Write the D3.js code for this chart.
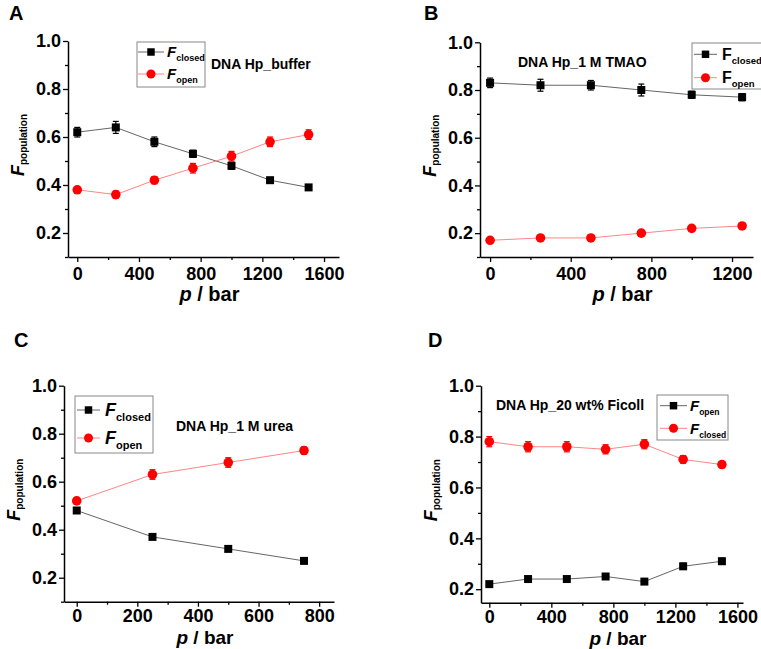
<!DOCTYPE html>
<html><head><meta charset="utf-8">
<script src="https://cdn.jsdelivr.net/npm/d3@7"></script>
<style>body{margin:0;background:#fff}svg{display:block;font-family:"Liberation Sans",Arial,sans-serif}</style>
</head><body>
<script>
// ---- data ----
const pressureA = [0, 250, 500, 750, 1000, 1250, 1500];
const closedA = [0.62, 0.64, 0.58, 0.53, 0.48, 0.42, 0.39];
const closedErrA = [0.02, 0.025, 0.02, 0.015, 0.015, 0.01, 0.01];
const openA = [0.38, 0.36, 0.42, 0.47, 0.52, 0.58, 0.61];
const openErrA = [0.01, 0.015, 0.015, 0.02, 0.02, 0.02, 0.02];

const pressureB = [0, 250, 500, 750, 1000, 1250];
const closedB = [0.83, 0.82, 0.82, 0.80, 0.78, 0.77];
const closedErrB = [0.02, 0.025, 0.02, 0.025, 0.015, 0.015];
const openB = [0.17, 0.18, 0.18, 0.20, 0.22, 0.23];
const openErrB = [0.005, 0.008, 0.005, 0.008, 0.008, 0.01];

const pressureC = [0, 250, 500, 750];
const closedC = [0.48, 0.37, 0.32, 0.27];
const closedErrC = [0.01, 0.01, 0.008, 0.008];
const openC = [0.52, 0.63, 0.68, 0.73];
const openErrC = [0.01, 0.02, 0.02, 0.015];

const pressureD = [0, 250, 500, 750, 1000, 1250, 1500];
const blackD = [0.22, 0.24, 0.24, 0.25, 0.23, 0.29, 0.31];
const blackErrD = [0.005, 0.008, 0.008, 0.01, 0.008, 0.012, 0.012];
const redD = [0.78, 0.76, 0.76, 0.75, 0.77, 0.71, 0.69];
const redErrD = [0.02, 0.02, 0.02, 0.018, 0.018, 0.015, 0.012];

const yTicksMain = [0.2, 0.4, 0.6, 0.8, 1.0];
const xTicks1600 = [0, 400, 800, 1200, 1600];
const xTicks1200 = [0, 400, 800, 1200];
const xTicks800 = [0, 200, 400, 600, 800];

const svg = d3.select("body").append("svg").attr("width", 761).attr("height", 649);

function panel(cfg) {
  const g = svg.append("g");
  const x = d3.scaleLinear().domain(cfg.xDomain).range([cfg.left, cfg.right]);
  const y = d3.scaleLinear().domain(cfg.yDomain).range([cfg.bottom, cfg.top]);

  g.append("text").attr("x", cfg.letterX).attr("y", cfg.letterY).attr("font-size", 20)
    .attr("font-weight", "bold").text(cfg.letter);

  const xMinor = cfg.xTicks.slice(0, -1).map((v, i) => (v + cfg.xTicks[i + 1]) / 2)
    .filter(v => v >= cfg.xDomain[0] && v <= cfg.xDomain[1]);
  const yMinor = [];
  for (let v = 0.1; v < 1.0; v += 0.2) if (v >= cfg.yDomain[0] - 1e-9) yMinor.push(+v.toFixed(1));

  g.append("g").attr("transform", `translate(0,${cfg.bottom})`)
    .call(d3.axisBottom(x).tickValues(cfg.xTicks).tickSize(5).tickSizeOuter(0).tickPadding(cfg.xPad).tickFormat(d3.format("d")));
  g.append("g").attr("transform", `translate(0,${cfg.bottom})`)
    .call(d3.axisBottom(x).tickValues(xMinor).tickSize(3).tickSizeOuter(0).tickFormat(""))
    .select(".domain").remove();
  g.append("g").attr("transform", `translate(${cfg.left},0)`)
    .call(d3.axisLeft(y).tickValues(yTicksMain).tickSize(5).tickSizeOuter(0).tickPadding(2).tickFormat(d3.format(".1f")));
  g.append("g").attr("transform", `translate(${cfg.left},0)`)
    .call(d3.axisLeft(y).tickValues(yMinor).tickSize(3).tickSizeOuter(0).tickFormat(""))
    .select(".domain").remove();
  g.selectAll(".domain").attr("stroke-width", 1.5);
  g.selectAll(".tick line").attr("stroke-width", 1.3);
  g.selectAll(".tick text").attr("font-size", 18).attr("font-weight", "bold")
    .attr("font-family", "'Liberation Sans',Arial,sans-serif").attr("fill", "#000");

  const xt = g.append("text").attr("x", (cfg.left + cfg.right) / 2 + 6).attr("y", cfg.bottom + cfg.titleOff)
    .attr("text-anchor", "middle").attr("font-size", cfg.titleFs).attr("font-weight", "bold");
  xt.append("tspan").attr("font-style", "italic").text("p");
  xt.append("tspan").text(" / bar");

  const yt = g.append("text").attr("transform", `translate(${cfg.left - 44},${(cfg.top + cfg.bottom) / 2 - 4}) rotate(-90)`)
    .attr("text-anchor", "middle").attr("font-weight", "bold");
  yt.append("tspan").attr("font-style", "italic").attr("font-size", 18).text("F");
  yt.append("tspan").attr("font-size", 10).attr("dy", 3).text("population");

  cfg.series.forEach(s => {
    const pts = cfg.xs.map((p, i) => ({ p, v: s.values[i], e: s.errs[i] }));
    g.append("path").datum(pts).attr("fill", "none").attr("stroke", s.lineColor).attr("stroke-width", 1)
      .attr("d", d3.line().x(d => x(d.p)).y(d => y(d.v)));
    const eb = g.append("g").attr("stroke", s.color).attr("stroke-width", 1.2);
    pts.forEach(d => {
      const cx = x(d.p), y1 = y(d.v + d.e), y2 = y(d.v - d.e);
      eb.append("line").attr("x1", cx).attr("x2", cx).attr("y1", y1).attr("y2", y2);
      eb.append("line").attr("x1", cx - 3).attr("x2", cx + 3).attr("y1", y1).attr("y2", y1);
      eb.append("line").attr("x1", cx - 3).attr("x2", cx + 3).attr("y1", y2).attr("y2", y2);
    });
    const sym = d3.symbol().type(s.shape === "square" ? d3.symbolSquare : d3.symbolCircle).size(s.shape === "square" ? 64 : 72);
    g.selectAll(null).data(pts).enter().append("path")
      .attr("d", sym).attr("fill", s.color)
      .attr("transform", d => `translate(${x(d.p)},${y(d.v)})`);
  });

  const L = cfg.legend;
  g.append("rect").attr("x", L.x).attr("y", L.y).attr("width", L.w).attr("height", L.h)
    .attr("fill", "#fff").attr("stroke", "#888").attr("stroke-width", 1);
  L.rows.forEach((r, i) => {
    const s = cfg.series[r.series];
    const ry = L.rowY[i];
    g.append("line").attr("x1", L.lineX1).attr("x2", L.lineX2).attr("y1", ry).attr("y2", ry)
      .attr("stroke", s.lineColor).attr("stroke-width", 1);
    const sym = d3.symbol().type(s.shape === "square" ? d3.symbolSquare : d3.symbolCircle).size(s.shape === "square" ? 56 : 64);
    g.append("path").attr("d", sym).attr("fill", s.color)
      .attr("transform", `translate(${(L.lineX1 + L.lineX2) / 2},${ry})`);
    const t = g.append("text").attr("x", L.textX).attr("y", ry + L.fs * 0.36).attr("font-weight", "bold");
    t.append("tspan").attr("font-style", L.italic ? "italic" : "normal").attr("font-size", L.fs).text("F");
    t.append("tspan").attr("font-size", L.subFs).attr("dy", L.subDy).text(r.label);
  });

  g.append("text").attr("x", cfg.note.x).attr("y", cfg.note.y).attr("font-size", 14)
    .attr("font-weight", "bold").text(cfg.note.text);
}

const blackS = (v, e) => ({ values: v, errs: e, color: "#000", lineColor: "#666", shape: "square" });
const redS = (v, e) => ({ values: v, errs: e, color: "#ff0000", lineColor: "#ff8585", shape: "circle" });

panel({
  letter: "A", letterX: 9, letterY: 20,
  left: 68, right: 339, top: 41, bottom: 257, xPad: 5, titleOff: 44, titleFs: 20,
  xDomain: [-60, 1697], yDomain: [0.1, 1.0], xTicks: xTicks1600, xs: pressureA,
  series: [blackS(closedA, closedErrA), redS(openA, openErrA)],
  legend: { x: 137, y: 42, w: 68, h: 45, rowY: [52, 74], lineX1: 138, lineX2: 164, textX: 167, fs: 15, subFs: 9, subDy: 4, italic: true,
    rows: [{ series: 0, label: "closed" }, { series: 1, label: "open" }] },
  note: { x: 211, y: 69, text: "DNA Hp_buffer" }
});

panel({
  letter: "B", letterX: 424, letterY: 20,
  left: 480, right: 753, top: 42.3, bottom: 257, xPad: 5, titleOff: 44, titleFs: 20,
  xDomain: [-50, 1304], yDomain: [0.1, 1.0], xTicks: xTicks1200, xs: pressureB,
  series: [blackS(closedB, closedErrB), redS(openB, openErrB)],
  legend: { x: 692, y: 43, w: 72, h: 46, rowY: [54.3, 77.7], lineX1: 694, lineX2: 717, textX: 722, fs: 16, subFs: 9.5, subDy: 4, italic: false,
    rows: [{ series: 0, label: "closed" }, { series: 1, label: "open" }] },
  note: { x: 518, y: 67, text: "DNA Hp_1 M TMAO" }
});

panel({
  letter: "C", letterX: 14, letterY: 347,
  left: 64, right: 334, top: 385.7, bottom: 601.7, xPad: 3, titleOff: 42, titleFs: 19,
  xDomain: [-42, 849], yDomain: [0.1, 1.0], xTicks: xTicks800, xs: pressureC,
  series: [blackS(closedC, closedErrC), redS(openC, openErrC)],
  legend: { x: 75, y: 396, w: 78, h: 57, rowY: [410, 438], lineX1: 77, lineX2: 100, textX: 105, fs: 18, subFs: 11, subDy: 5, italic: true,
    rows: [{ series: 0, label: "closed" }, { series: 1, label: "open" }] },
  note: { x: 176, y: 431, text: "DNA Hp_1 M urea" }
});

panel({
  letter: "D", letterX: 428, letterY: 347,
  left: 481, right: 743, top: 385.7, bottom: 602.7, xPad: 3, titleOff: 42, titleFs: 19,
  xDomain: [-53.5, 1636], yDomain: [0.147, 1.0], xTicks: xTicks1600, xs: pressureD,
  series: [blackS(blackD, blackErrD), redS(redD, redErrD)],
  legend: { x: 657, y: 395, w: 71, h: 45, rowY: [405.7, 428.3], lineX1: 660, lineX2: 687, textX: 690, fs: 15, subFs: 8.5, subDy: 4, italic: true,
    rows: [{ series: 0, label: "open" }, { series: 1, label: "closed" }] },
  note: { x: 496, y: 410, text: "DNA Hp_20 wt% Ficoll" }
});
</script>
</body></html>
